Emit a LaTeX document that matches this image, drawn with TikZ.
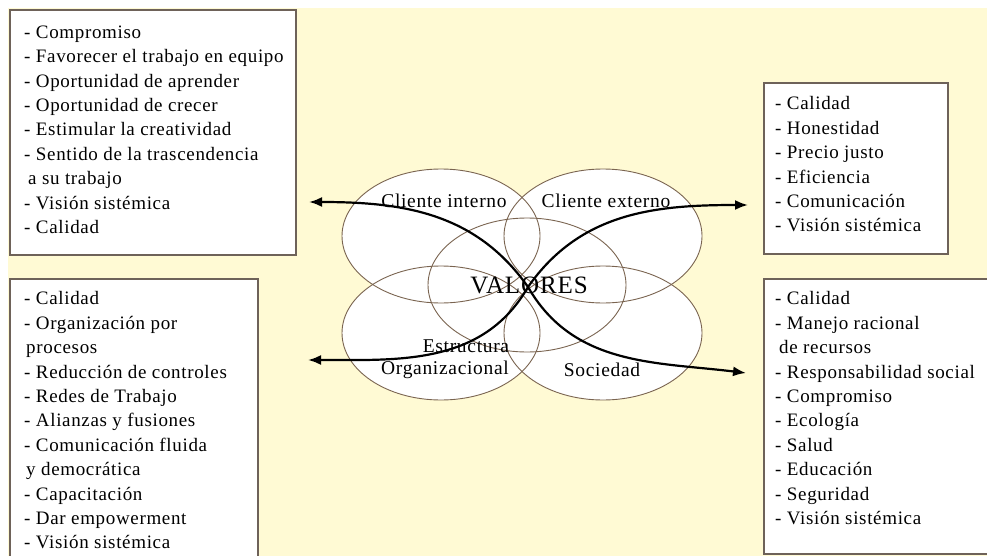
\documentclass[tikz,border=0pt]{standalone}
\usepackage{fontspec}
\setmainfont[LetterSpace=3.5]{Liberation Serif}
\usepackage{tikz}
\usetikzlibrary{arrows.meta,positioning,calc,shapes.geometric}
\definecolor{paper}{HTML}{FFFAD4}
\definecolor{frame}{HTML}{6E6259}
\definecolor{rim}{HTML}{7A6450}
\tikzset{
  lst/.style   ={draw=frame,line width=1.6pt,fill=white,anchor=north west,inner sep=0pt},
  txt/.style   ={anchor=north west,align=left,inner sep=0pt,font=\fontsize{19}{24.4}\selectfont},
  eli/.style   ={ellipse,minimum width=198pt,minimum height=134pt,inner sep=0pt,fill=white},
  tag/.style   ={inner sep=0pt,font=\fontsize{19.5}{22}\selectfont},
  flow/.style  ={-{Latex[length=13pt,width=10pt]},line width=2.2pt},
}

\begin{document}
\begin{tikzpicture}[x=1pt,y=-1pt]
  \useasboundingbox (0,0) rectangle (987,556);
  \fill[paper] (8,8) rectangle (987,556);

  % value lists
  \node[lst,minimum width=286pt,minimum height=245pt] (intbox) at (9,9) {};
  \node[txt] (intlist) at ([xshift=15pt,yshift=-16.5pt]intbox.north west)
    {- Compromiso\\- Favorecer el trabajo en equipo\\- Oportunidad de aprender\\
     - Oportunidad de crecer\\- Estimular la creatividad\\- Sentido de la trascendencia\\
     \hspace{4pt}a su trabajo\\- Visión sistémica\\- Calidad};
  \node[lst,minimum width=184pt,minimum height=171pt] (extbox) at (763,82) {};
  \node[txt] (extlist) at ([xshift=12pt,yshift=-14.5pt]extbox.north west)
    {- Calidad\\- Honestidad\\- Precio justo\\- Eficiencia\\- Comunicación\\- Visión sistémica};
  \node[lst,minimum width=248pt,minimum height=292pt] (orgbox) at (9,278) {};
  \node[txt] (orglist) at ([xshift=15pt,yshift=-13.5pt]orgbox.north west)
    {- Calidad\\- Organización por\\\hspace{2pt}procesos\\- Reducción de controles\\
     - Redes de Trabajo\\- Alianzas y fusiones\\- Comunicación fluida\\
     \hspace{2pt}y democrática\\- Capacitación\\- Dar empowerment\\- Visión sistémica};
  \node[lst,minimum width=232pt,minimum height=275pt] (socbox) at (763,278) {};
  \node[txt] (soclist) at ([xshift=12pt,yshift=-13.5pt]socbox.north west)
    {- Calidad\\- Manejo racional\\\hspace{4pt}de recursos\\- Responsabilidad social\\
     - Compromiso\\- Ecología\\- Salud\\- Educación\\- Seguridad\\- Visión sistémica};

  % the five ellipses
  \node[eli] (cint) at (441,236) {};
  \node[eli] (cext) at (603,236) {};
  \node[eli] (estr) at (441,333) {};
  \node[eli] (soc)  at (603,333) {};
  \node[eli] (val)  at (527,285) {};
  \foreach \e in {cint,cext,estr,soc,val}
    \draw[rim,line width=0.9pt] (\e.center) ellipse [x radius=99pt,y radius=67pt];

  \node[tag] (cintl) at (444,201) {Cliente interno};
  \node[tag] (cextl) at (606,201) {Cliente externo};
  \node[tag] (estrl) at (466,346) {Estructura};
  \node[tag] (orgl)  at (445,370) {Organizacional};
  \node[tag] (socl)  at (602,370) {Sociedad};
  \node[inner sep=0pt,font=\fontsize{25}{28}\selectfont] (vall) at (529,285) {VALORES};

  % arrows out of the centre
  \coordinate (hub) at (528,287);
  \coordinate (tl) at (309,202);
  \coordinate (tr) at (748,205);
  \coordinate (bl) at (308,360);
  \coordinate (br) at (746,373);
  \draw[flow] (hub) to[out=125,in=0] (tl);
  \draw[flow] (hub) to[out=55,in=180] (tr);
  \draw[flow] (hub) to[out=240,in=0] (bl);
  \draw[flow] (hub) to[out=300,in=173] (br);
\end{tikzpicture}
\end{document}
